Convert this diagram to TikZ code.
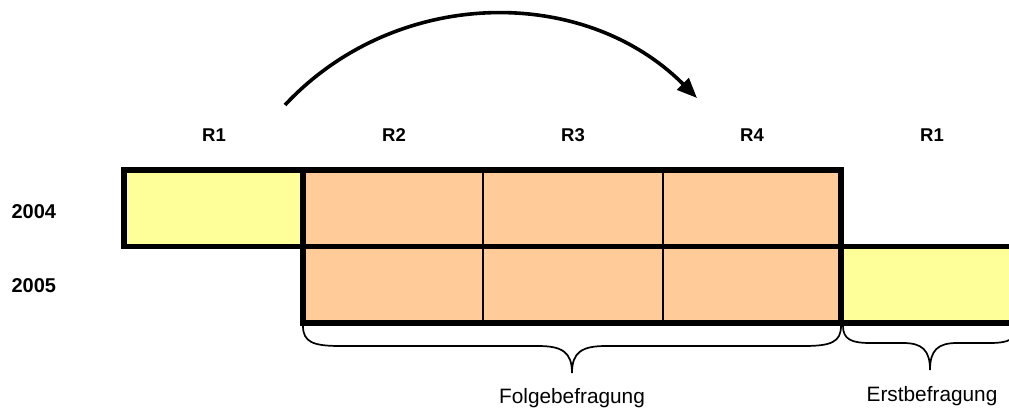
\documentclass[tikz,border=0pt]{standalone}
\usepackage{fontspec}
\setmainfont{Liberation Sans}
\usetikzlibrary{arrows.meta}
\definecolor{paleyellow}{HTML}{FFFF99}
\definecolor{peach}{HTML}{FFCC99}
\begin{document}
\begin{tikzpicture}[x=1pt,y=-1pt,
  cell/.style={draw=black, line width=2.6pt, minimum height=76.5pt,
    inner sep=0pt, outer sep=0pt},
  newcell/.style={cell, fill=paleyellow},
  repcell/.style={cell, fill=peach},
  frame/.style={line width=5.5pt, line join=miter},
  roundlabel/.style={font=\fontsize{18.5}{21}\selectfont\bfseries},
  yearlabel/.style={font=\fontsize{20}{23}\selectfont\bfseries, anchor=west},
  bracelabel/.style={font=\fontsize{20.8}{24}\selectfont},
  bracket/.style={line width=1.7pt},
  rotation/.style={line width=3.6pt, -{Triangle[length=20pt,width=16pt]}}]

\useasboundingbox (0,0) rectangle (1009,410);
\clip (0,0) rectangle (1009,410);

% survey rounds
\node[roundlabel] (h0) at (214,135) {R1};
\node[roundlabel] (h1) at (394,135) {R2};
\node[roundlabel] (h2) at (573,135) {R3};
\node[roundlabel] (h3) at (752,135) {R4};
\node[roundlabel] (h4) at (932,135) {R1};

% years
\node[yearlabel] (y4) at (8,212) {2004};
\node[yearlabel] (y5) at (8,286) {2005};

% 2004 row
\node[newcell, minimum width=179pt] (a0) at (213.5,208) {};
\node[repcell, minimum width=180pt] (a1) at (393,208) {};
\node[repcell, minimum width=180pt] (a2) at (573,208) {};
\node[repcell, minimum width=178pt] (a3) at (752,208) {};

% 2005 row
\node[repcell, minimum width=180pt] (b1) at (393,284.5) {};
\node[repcell, minimum width=180pt] (b2) at (573,284.5) {};
\node[repcell, minimum width=178pt] (b3) at (752,284.5) {};
\node[newcell, minimum width=200pt] (b4) at (941,284.5) {};

% heavy outlines
\draw[frame] (a0.north west) rectangle (a3.south east);
\draw[frame] (b1.north west) rectangle (b3.south east);
\draw[frame] (b4.north west) rectangle (b4.south east);
\draw[frame] (a0.north east) -- (a0.south east);

% rotation arrow
\coordinate (rs) at (285,105);
\coordinate (re) at (697,98);
\draw[rotation] (rs) to[bend left=46] (re);

% brace under the follow-up rounds
\coordinate (fl) at (303,326);
\coordinate (fr) at (841,326);
\coordinate (ft) at (572,373);
\draw[bracket] (fl) .. controls (303,342) and (313,346) .. (340,346)
  -- (538,346) .. controls (562,346) and (572,352) .. (ft)
  .. controls (572,352) and (582,346) .. (606,346)
  -- (804,346) .. controls (831,346) and (841,342) .. (fr);
\node[bracelabel] (fol) at (572,398) {Folgebefragung};

% brace under the first round
\coordinate (el) at (843,326);
\coordinate (er) at (1017,326);
\coordinate (et) at (930,370);
\draw[bracket] (el) .. controls (843,339) and (851,343) .. (870,343)
  -- (903,343) .. controls (922,343) and (930,350) .. (et)
  .. controls (930,350) and (938,343) .. (957,343)
  -- (990,343) .. controls (1009,343) and (1017,339) .. (er);
\node[bracelabel] (ers) at (932,396) {Erstbefragung};
\end{tikzpicture}
\end{document}
